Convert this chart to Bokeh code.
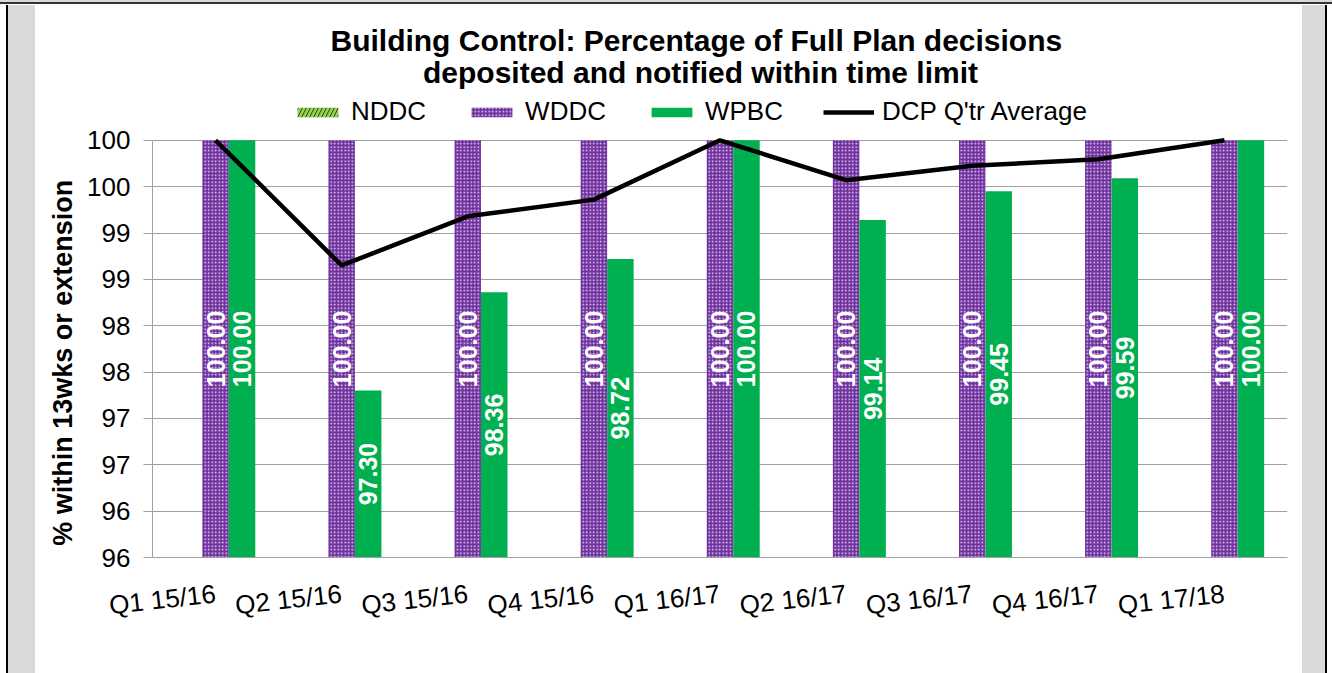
import math
from bokeh.plotting import figure
from bokeh.models import (ColumnDataSource, FactorRange, Range1d, FixedTicker,
                          Legend, LegendItem, Label, Spacer)
from bokeh.layouts import row, column
from bokeh.transform import dodge
from bokeh.core.properties import value
from bokeh.embed import file_html
from bokeh.resources import INLINE

# ---------------- data ----------------
CATEGORIES = ["Q1 15/16", "Q2 15/16", "Q3 15/16", "Q4 15/16", "Q1 16/17",
              "Q2 16/17", "Q3 16/17", "Q4 16/17", "Q1 17/18"]
NDDC = [float("nan")] * 9
WDDC = [100.00, 100.00, 100.00, 100.00, 100.00, 100.00, 100.00, 100.00, 100.00]
WPBC = [100.00, 97.30, 98.36, 98.72, 100.00, 99.14, 99.45, 99.59, 100.00]
DCP_AVG = [100.00, 98.65, 99.18, 99.36, 100.00, 99.57, 99.725, 99.795, 100.00]
SERIES_NAMES = ["NDDC", "WDDC", "WPBC", "DCP Q'tr Average"]
Y_TICKS = [95.5, 96.0, 96.5, 97.0, 97.5, 98.0, 98.5, 99.0, 99.5, 100.0]
Y_TICK_LABELS = ["96", "96", "97", "97", "98", "98", "99", "99", "100", "100"]
TITLE_LINES = ["Building Control:  Percentage of Full Plan decisions",
               "deposited and notified within time limit"]
Y_LABEL = "% within  13wks or extension"
Y_START, Y_END = 95.5, 100.0

# ---------------- styles ----------------
FONT = "Liberation Sans"
C_NDDC = "#92D050"
C_WDDC = "#7030A0"
C_WPBC = "#00B050"
GRID = "#a0a0a0"
BAR_W = 0.21
VIEW_TOP = 101.4   # extra room above the value axis for title and legend
NBSP_PAD = "\u00a0" * 20  # keeps the rotated axis title centred on the value span

src = ColumnDataSource(dict(
    cat=CATEGORIES,
    nddc=NDDC,
    wddc=WDDC,
    wpbc=WPBC,
    avg=DCP_AVG,
    wddc_mid=[(Y_START + v) / 2 for v in WDDC],
    wpbc_mid=[(Y_START + v) / 2 for v in WPBC],
    wddc_txt=["%.2f" % v for v in WDDC],
    wpbc_txt=["%.2f" % v for v in WPBC],
))

p = figure(width=1267, height=668, x_range=FactorRange(*CATEGORIES, range_padding=0),
           y_range=Range1d(Y_START, VIEW_TOP), output_backend="svg",
           toolbar_location=None, min_border_left=117, min_border_right=15,
           min_border_top=5, min_border_bottom=116)
p.x_range.factor_padding = 0
p.outline_line_color = None
p.background_fill_color = "white"
p.border_fill_color = "white"

r_nddc = p.vbar(x=dodge("cat", -BAR_W, range=p.x_range), top="nddc", bottom=Y_START,
                width=BAR_W, source=src, fill_color=C_NDDC, line_color=None,
                hatch_pattern="/", hatch_color="black", hatch_scale=8,
                hatch_weight=0.8, hatch_alpha=0.8)
r_wddc = p.vbar(x=dodge("cat", 0, range=p.x_range), top="wddc", bottom=Y_START,
                width=BAR_W, source=src, fill_color=C_WDDC, line_color=None,
                hatch_pattern="dot", hatch_color="white", hatch_scale=3.5,
                hatch_weight=1.6, hatch_alpha=0.85)
r_wpbc = p.vbar(x=dodge("cat", BAR_W, range=p.x_range), top="wpbc", bottom=Y_START,
                width=BAR_W, source=src, fill_color=C_WPBC, line_color=None)
r_avg = p.line(x="cat", y="avg", source=src, line_color="black", line_width=4.5)

common = dict(angle=math.pi / 2, text_align="center", text_baseline="middle",
              text_font=value(FONT), text_font_size="25px", text_font_style="bold",
              text_color="white", source=src)
p.text(x=dodge("cat", 0, range=p.x_range), y="wddc_mid", text="wddc_txt", **common)
p.text(x=dodge("cat", BAR_W, range=p.x_range), y="wpbc_mid", text="wpbc_txt", **common)

# axes
p.yaxis.bounds = (Y_START, Y_END)
p.yaxis.ticker = FixedTicker(ticks=Y_TICKS)
p.yaxis.major_label_overrides = dict(zip(Y_TICKS, Y_TICK_LABELS))
p.yaxis.major_tick_out = 9
p.yaxis.major_tick_in = 0
p.yaxis.minor_tick_line_color = None
p.yaxis.major_tick_line_color = GRID
p.yaxis.axis_line_color = GRID
p.yaxis.major_label_text_font = FONT
p.yaxis.major_label_text_font_size = "26px"
p.yaxis.major_label_text_color = "black"
p.yaxis.major_label_standoff = 13
p.yaxis.axis_label = Y_LABEL + NBSP_PAD
p.yaxis.axis_label_text_font = FONT
p.yaxis.axis_label_text_font_size = "27px"
p.yaxis.axis_label_text_font_style = "bold"
p.yaxis.axis_label_text_color = "black"
p.yaxis.axis_label_standoff = 6

p.xaxis.major_tick_line_color = None
p.xaxis.minor_tick_line_color = None
p.xaxis.axis_line_color = GRID
p.xaxis.major_label_text_font = FONT
p.xaxis.major_label_text_font_size = "26px"
p.xaxis.major_label_text_color = "black"
p.xaxis.major_label_orientation = 0.11
p.xaxis.major_label_standoff = 30

p.xgrid.grid_line_color = None
p.ygrid.grid_line_color = GRID
p.ygrid.grid_line_width = 1

# legend
legend = Legend(items=[
    LegendItem(label=SERIES_NAMES[0], renderers=[r_nddc]),
    LegendItem(label=SERIES_NAMES[1], renderers=[r_wddc]),
    LegendItem(label=SERIES_NAMES[2], renderers=[r_wpbc]),
    LegendItem(label=SERIES_NAMES[3], renderers=[r_avg]),
], orientation="horizontal", location=(140, 430))
legend.glyph_width = 51
legend.glyph_height = 12
legend.label_standoff = 8
legend.spacing = 40
legend.padding = 0
legend.margin = 0
legend.border_line_color = None
legend.background_fill_alpha = 0
legend.label_text_font = FONT
legend.label_text_font_size = "26px"
legend.label_text_color = "black"
p.add_layout(legend, "center")

# title (drawn in the free space above the value range)
for line, yy in zip(TITLE_LINES, [517, 485]):
    p.add_layout(Label(x=548, y=yy, x_units="screen", y_units="screen", text=line,
                       text_align="center", text_baseline="alphabetic",
                       text_font=FONT, text_font_size="30px", text_font_style="bold",
                       text_color="black"))

top = Spacer(width=1332, height=5, styles={
    "background": "linear-gradient(to bottom, #d9d9d9 0px, #d9d9d9 2px, #333333 2px, #333333 4px, #ffffff 4px)"})
left = Spacer(width=35, height=668, styles={
    "background": "linear-gradient(to right, #ffffff 0px, #ffffff 6px, #000000 6px, #000000 8px, #d9d9d9 8px)"})
right = Spacer(width=30, height=668, styles={
    "background": "linear-gradient(to right, #d9d9d9 0px, #d9d9d9 23px, #000000 23px, #000000 25px, #ffffff 25px)"})
layout = column(top, row(left, p, right, spacing=0), spacing=0)

open("out.html", "w").write(file_html(layout, INLINE))
